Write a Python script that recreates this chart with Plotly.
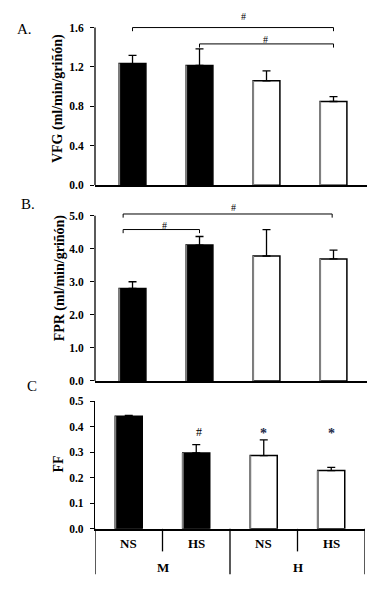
import plotly.graph_objects as go

# ---------------- data ----------------
sub_labels = ["NS", "HS", "NS", "HS"]
group_labels = ["M", "H"]
bar_colors = ["black", "black", "white", "white"]

vfg = [1.235, 1.215, 1.06, 0.85]
vfg_err = [0.083, 0.169, 0.10, 0.05]

fpr = [2.80, 4.11, 3.78, 3.69]
fpr_err = [0.20, 0.26, 0.80, 0.27]

ff = [0.441, 0.297, 0.287, 0.228]
ff_err = [0.003, 0.033, 0.061, 0.013]

# significance brackets: (x0, x1, y) and labels: (x, y, text)
a_brackets = [(0, 3, 1.60), (1, 3, 1.434)]
a_labels = [(1.65, 1.71, "#"), (1.98, 1.48, "#")]
b_brackets = [(-0.14, 2.98, 5.05), (-0.14, 1.0, 4.58)]
b_labels = [(1.51, 5.25, "#"), (0.47, 4.71, "#")]
c_labels = [(1.04, 0.378, "#"), (2.0, 0.372, "*"), (3.0, 0.372, "*")]

a_ticks = [0.0, 0.4, 0.8, 1.2, 1.6]
b_ticks = [0.0, 1.0, 2.0, 3.0, 4.0, 5.0]
c_ticks = [0.0, 0.1, 0.2, 0.3, 0.4, 0.5]

# ---------------- layout constants ----------------
W, H = 385, 591
FONT = "Liberation Serif"
BAR_W = 0.4
xs = list(range(len(sub_labels)))

fig = go.Figure()

panels = [
    ("x", "y", vfg, vfg_err),
    ("x2", "y2", fpr, fpr_err),
    ("x3", "y3", ff, ff_err),
]

for xa, ya, vals, errs in panels:
    fig.add_trace(go.Bar(
        x=xs, y=vals, width=BAR_W,
        marker=dict(color=bar_colors, line=dict(color="black", width=1.5)),
        error_y=dict(type="data", array=errs, arrayminus=[0] * len(errs),
                     symmetric=False, color="black", thickness=1.3, width=4),
        xaxis=xa, yaxis=ya, showlegend=False, hoverinfo="skip",
    ))
    # grey left edge of each bar
    lx, ly = [], []
    for i, v in zip(xs, vals):
        lx += [i - BAR_W / 2, i - BAR_W / 2, None]
        ly += [0, v, None]
    fig.add_trace(go.Scatter(x=lx, y=ly, mode="lines",
                             line=dict(color="#808080", width=2),
                             xaxis=xa, yaxis=ya, showlegend=False, hoverinfo="skip"))


def add_brackets(brackets, xa, ya, drop):
    for x0, x1, y in brackets:
        fig.add_trace(go.Scatter(
            x=[x0, x0, x1, x1], y=[y - drop, y, y, y - drop], mode="lines",
            line=dict(color="black", width=1), xaxis=xa, yaxis=ya,
            showlegend=False, hoverinfo="skip"))


add_brackets(a_brackets, "x", "y", 0.037)
add_brackets(b_brackets, "x2", "y2", 0.11)

annotations = []
for (lst, xa, ya, size) in [(a_labels, "x", "y", 10), (b_labels, "x2", "y2", 10),
                            (c_labels, "x3", "y3", 12)]:
    for x, y, t in lst:
        color = "#1c2a48" if t == "*" else "black"
        txt = "<b>*</b>" if t == "*" else t
        annotations.append(dict(x=x, y=y, xref=xa, yref=ya, text=txt, showarrow=False,
                                font=dict(family=FONT, size=(14 if t == "*" else size),
                                          color=color),
                                xanchor="center", yanchor="middle"))

# panel letters
for t, px, py in [("A.", 25, 23), ("B.", 28, 202), ("C", 32, 388)]:
    annotations.append(dict(x=px / W, y=1 - py / H, xref="paper", yref="paper", text=t,
                            showarrow=False, font=dict(family=FONT, size=15, color="black"),
                            xanchor="center", yanchor="middle"))

# y-axis titles
for t, px, py in [("<b>VFG (ml/min/griñón)</b>", 58, 95),
                  ("<b>FPR (ml/min/griñón)</b>", 60, 278),
                  ("<b>FF</b>", 58, 468)]:
    annotations.append(dict(x=px / W, y=1 - py / H, xref="paper", yref="paper", text=t,
                            textangle=-90, showarrow=False,
                            font=dict(family=FONT, size=14, color="black"),
                            xanchor="center", yanchor="middle"))

# category table under panel C
for i, t in enumerate(sub_labels):
    annotations.append(dict(x=i, y=1 - 549 / H, xref="x3", yref="paper", text="<b>%s</b>" % t,
                            showarrow=False, font=dict(family=FONT, size=13, color="black"),
                            xanchor="center", yanchor="middle"))
for g, t in enumerate(group_labels):
    annotations.append(dict(x=2 * g + 0.5, y=1 - 572.7 / H, xref="x3", yref="paper",
                            text="<b>%s</b>" % t, showarrow=False,
                            font=dict(family=FONT, size=13, color="black"),
                            xanchor="center", yanchor="middle"))

c_bottom = 1 - 533.7 / H
shapes = []
n = len(sub_labels)
for k in range(n + 1):
    bx = k - 0.5
    long_line = (k % 2 == 0)
    y_end = 1 - 580 / H if long_line else 1 - 556.7 / H
    shapes.append(dict(type="line", xref="x3", yref="paper", x0=bx, x1=bx,
                       y0=c_bottom, y1=y_end, line=dict(color="black", width=1.3)))

# y-axis lines for panels A and B (ranges extended above top tick for brackets)
shapes.append(dict(type="line", xref="x domain", yref="y", x0=0, x1=0, y0=0, y1=a_ticks[-1],
                   line=dict(color="black", width=1.3)))
shapes.append(dict(type="line", xref="x2 domain", yref="y2", x0=0, x1=0, y0=0, y1=b_ticks[-1],
                   line=dict(color="black", width=1.3)))

xdom_ab = [95 / W, 367 / W]
xdom_c = [95 / W, 365 / W]

common_x = dict(showticklabels=False, ticks="", showgrid=False, zeroline=False,
                showline=True, linecolor="black", linewidth=1.5, fixedrange=True)


def yaxis_cfg(ticks):
    return dict(showgrid=False, zeroline=False, ticks="outside", ticklen=4, tickwidth=1.3,
                tickcolor="black", tickvals=ticks, fixedrange=True,
                ticktext=["<b>%.1f</b>" % t for t in ticks], ticklabelstandoff=4,
                tickfont=dict(family=FONT, size=11.5, color="black"))


# pixel scales: A 0..1.6 spans 183->22, B 0..5 spans 382.7->214, C 0..0.5 spans 533.7->403.3
a_top_val, b_top_val = 1.76, 5.32
a_top_px = 183 - a_top_val * (183 - 22) / 1.6
b_top_px = 382.7 - b_top_val * (382.7 - 214) / 5.0

fig.update_layout(
    width=W, height=H,
    margin=dict(l=0, r=0, t=0, b=0),
    paper_bgcolor="white", plot_bgcolor="white",
    barmode="group",
    xaxis=dict(domain=xdom_ab, range=[-0.56, 3.5], anchor="y", **common_x),
    xaxis2=dict(domain=xdom_ab, range=[-0.56, 3.5], anchor="y2", **common_x),
    xaxis3=dict(domain=xdom_c, range=[-0.5, 3.5], anchor="y3", **common_x),
    yaxis=dict(domain=[1 - 183 / H, 1 - a_top_px / H], range=[0, a_top_val],
               anchor="x", showline=False, **yaxis_cfg(a_ticks)),
    yaxis2=dict(domain=[1 - 382.7 / H, 1 - b_top_px / H], range=[0, b_top_val],
                anchor="x2", showline=False, **yaxis_cfg(b_ticks)),
    yaxis3=dict(domain=[c_bottom, 1 - 403.3 / H], range=[0, 0.5],
                anchor="x3", showline=True, linecolor="black", linewidth=1.3,
                **yaxis_cfg(c_ticks)),
    annotations=annotations,
    shapes=shapes,
)

fig.write_html("out.html", config={"displayModeBar": False},
               post_script="document.body.style.margin='0';document.body.style.overflow='hidden';")
